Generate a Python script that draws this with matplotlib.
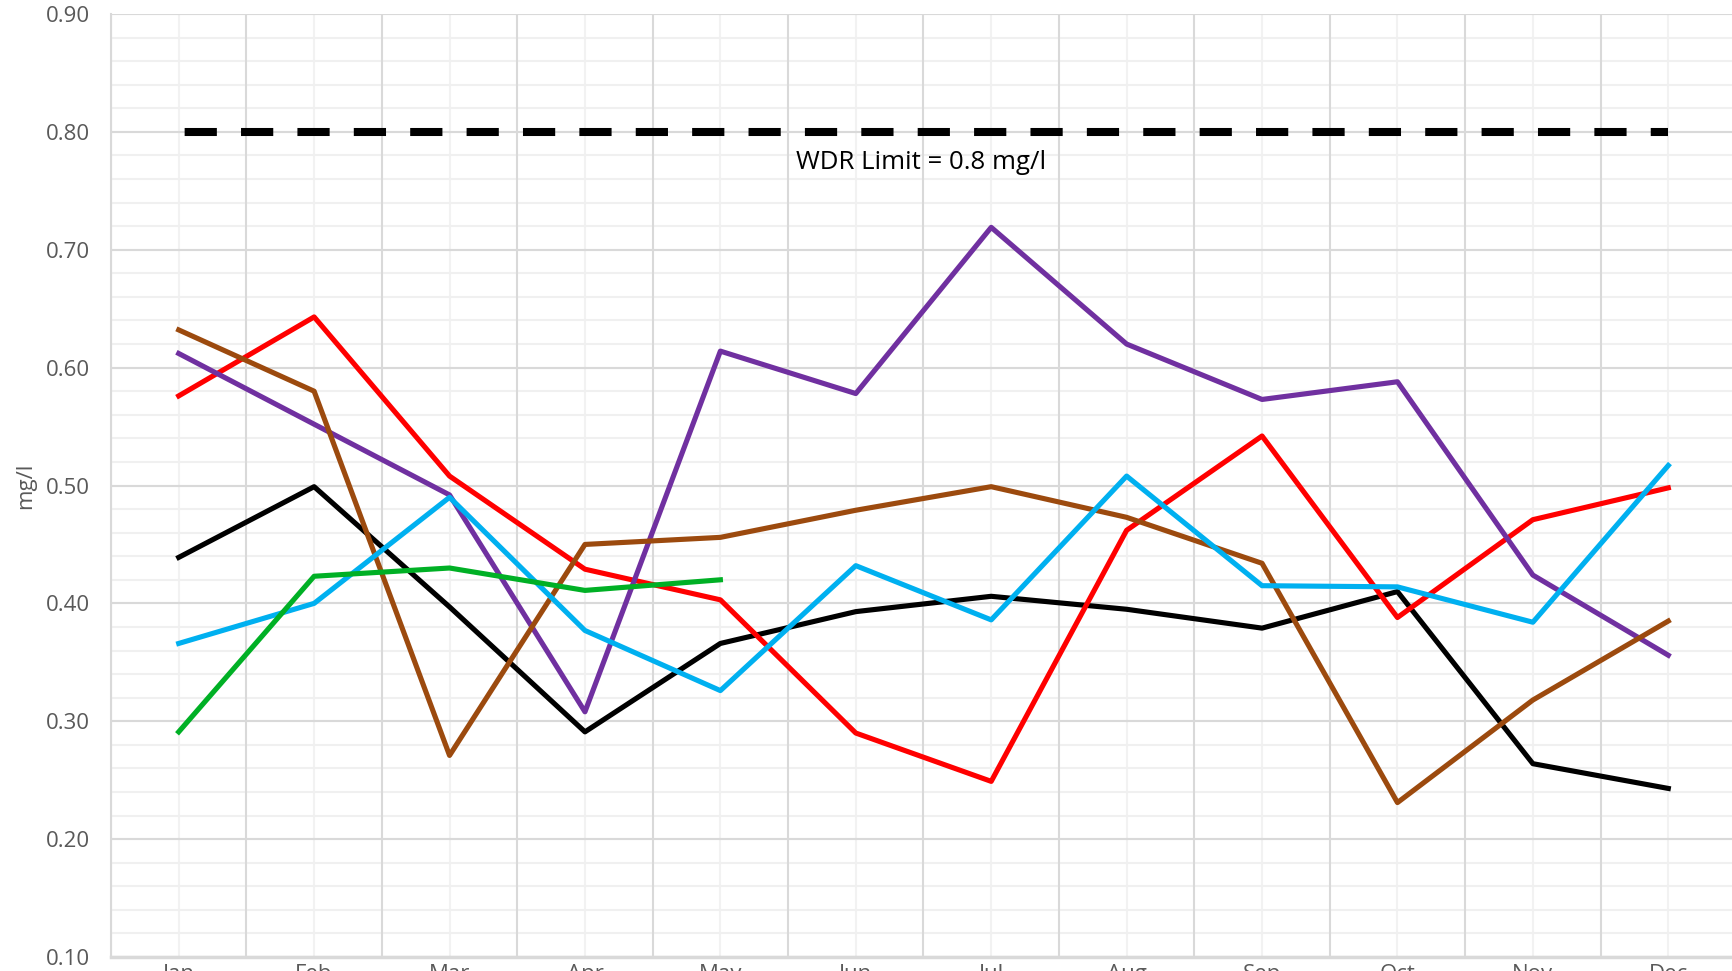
import matplotlib.pyplot as plt
from matplotlib.ticker import MultipleLocator, FixedLocator

plt.rcParams['font.family'] = ['Open Sans', 'DejaVu Sans']

months = ['Jan', 'Feb', 'Mar', 'Apr', 'May', 'Jun',
          'Jul', 'Aug', 'Sep', 'Oct', 'Nov', 'Dec']

# values (mg/l)
black = [0.439, 0.499, 0.397, 0.291, 0.366, 0.393, 0.406, 0.395, 0.379, 0.410, 0.264, 0.243]
red = [0.576, 0.643, 0.508, 0.429, 0.403, 0.290, 0.249, 0.462, 0.542, 0.388, 0.471, 0.498]
purple = [0.612, 0.552, 0.492, 0.308, 0.614, 0.578, 0.719, 0.620, 0.573, 0.588, 0.424, 0.356]
brown = [0.632, 0.580, 0.271, 0.450, 0.456, 0.479, 0.499, 0.473, 0.434, 0.231, 0.318, 0.385]
cyan = [0.366, 0.400, 0.490, 0.377, 0.326, 0.432, 0.386, 0.508, 0.415, 0.414, 0.384, 0.517]
green = [0.291, 0.423, 0.430, 0.411, 0.420]
limit = [0.8] * 12

fig = plt.figure(figsize=(17.32, 9.71), dpi=100)
ax = fig.add_axes([111 / 1732, 14 / 971, 1625 / 1732, 943 / 971])

x = list(range(len(months)))
lw = 3.7
ax.plot(x, limit, color='black', lw=5.8, linestyle=(6.3, (4.0, 3.0)),
        dash_capstyle='butt', zorder=3)
ax.plot(x, black, color='black', lw=lw, zorder=4)
ax.plot(x, red, color='#FF0000', lw=lw, zorder=4)
ax.plot(x, purple, color='#7030A0', lw=lw, zorder=4)
ax.plot(x, brown, color='#9C4A0E', lw=lw, zorder=4)
ax.plot(x, cyan, color='#00B0F0', lw=lw, zorder=4)
ax.plot(range(len(green)), green, color='#00B025', lw=lw, zorder=4)

ax.text(5.48, 0.774, 'WDR Limit = 0.8 mg/l', ha='center', va='center',
        fontsize=18.5, color='black')

ax.set_xlim(-0.5, 11.5)
ax.set_ylim(0.10, 0.90)

ax.set_xticks(x)
ax.set_xticklabels(months)
ax.xaxis.set_minor_locator(FixedLocator([i - 0.5 for i in range(13)]))
ax.yaxis.set_major_locator(MultipleLocator(0.1))
ax.yaxis.set_minor_locator(MultipleLocator(0.02))
ax.yaxis.set_major_formatter(plt.FuncFormatter(lambda v, p: f'{v:.2f}'))

# vertical lines: darker at category boundaries, light at centres
ax.grid(False)
for b in [i - 0.5 for i in range(13)]:
    ax.axvline(b, color='#D9D9D9', lw=1.5, zorder=1)
for c in x:
    ax.axvline(c, color='#F2F2F2', lw=1.5, zorder=0.5)
for v in [0.1 + 0.02 * i for i in range(41)]:
    ax.axhline(v, color='#F0F0F0', lw=1.5, zorder=0.5)
for v in [0.1 * i for i in range(1, 10)]:
    ax.axhline(v, color='#D9D9D9', lw=1.5, zorder=1)

ax.tick_params(axis='both', which='both', length=0, labelsize=16, colors='#595959')
ax.tick_params(axis='y', pad=15)
ax.tick_params(axis='x', pad=5)

for s in ax.spines.values():
    s.set_visible(False)
ax.spines['left'].set_visible(True)
ax.spines['left'].set_color('#D9D9D9')
ax.spines['left'].set_linewidth(1.5)
ax.spines['bottom'].set_visible(True)
ax.spines['bottom'].set_color('#D9D9D9')
ax.spines['bottom'].set_linewidth(2.5)

ax.set_ylabel('mg/l', fontsize=16, color='#595959')
ax.yaxis.set_label_coords(-0.046, 0.5)

fig.savefig('out.png', dpi=100)
